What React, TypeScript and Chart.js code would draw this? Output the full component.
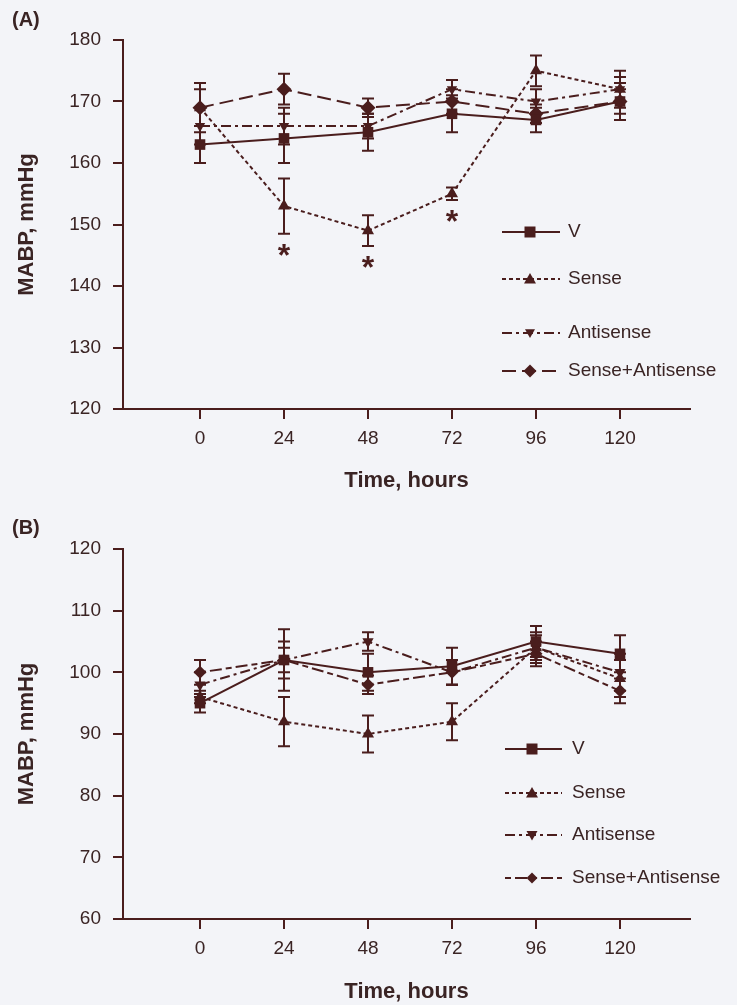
import React, { useEffect, useRef } from 'react';
import { Chart, registerables } from 'chart.js';
Chart.register(...registerables);

// ---------- data ----------
const hours = [0, 24, 48, 72, 96, 120];
const seriesNames = ['V', 'Sense', 'Antisense', 'Sense+Antisense'];

// Panel A
const aV = [163, 164, 165, 168, 167, 170];
const aVErr = [3, 4, 3, 3, 2, 3];
const aSense = [169, 153, 149, 155, 175, 172];
const aSenseErr = [4, 4.5, 2.5, 1, 2.5, 3];
const aAnti = [166, 166, 166, 172, 170, 172];
const aAntiErr = [3, 3, 2, 1.5, 2, 2];
const aSA = [169, 172, 169, 170, 168, 170];
const aSAErr = [3, 2.5, 1.5, 2, 1.5, 2];
const aStarHours = [24, 48, 72];

// Panel B
const bV = [95, 102, 100, 101, 105, 103];
const bVErr = [1.5, 5, 3, 3, 2.5, 3];
const bSense = [96, 92, 90, 92, 104, 99];
const bSenseErr = [1, 4, 3, 3, 2.5, 3];
const bAnti = [98, 102, 105, 100, 104, 100];
const bAntiErr = [2, 3, 1.5, 2, 2, 3];
const bSA = [100, 102, 98, 100, 103, 97];
const bSAErr = [2, 2, 1.5, 2, 2, 2];

const yTicksA = [120, 180];
const yTicksB = [60, 120];
const xLabel = 'Time, hours';
const yLabel = 'MABP, mmHg';

// ---------- styles ----------
const INK = '#4a1d1d';
const TEXT = '#3a2424';
const BG = '#f3f4f8';
const FONT = 'Arial, "Liberation Sans", Helvetica, sans-serif';

type Style = { dash: number[]; shape: 'square' | 'tri' | 'itri' | 'diamond'; r: number; pr: number };
const stylesA: Style[] = [
  { dash: [], shape: 'square', r: 5.5, pr: 7.5 },
  { dash: [4, 3], shape: 'tri', r: 6, pr: 7 },
  { dash: [10, 4, 3, 4], shape: 'itri', r: 5, pr: 6 },
  { dash: [14, 6], shape: 'diamond', r: 6.5, pr: 7.5 },
];
const stylesB: Style[] = [
  { dash: [], shape: 'square', r: 5.5, pr: 7.5 },
  { dash: [4, 3], shape: 'tri', r: 6, pr: 7 },
  { dash: [10, 4, 3, 4], shape: 'itri', r: 5.5, pr: 6.5 },
  { dash: [6, 4, 12, 4], shape: 'diamond', r: 5.5, pr: 6.5 },
];

function pointStyleOf(s: Style) {
  if (s.shape === 'square') return { pointStyle: 'rect', rotation: 0 };
  if (s.shape === 'tri') return { pointStyle: 'triangle', rotation: 0 };
  if (s.shape === 'itri') return { pointStyle: 'triangle', rotation: 180 };
  return { pointStyle: 'rectRot', rotation: 0 };
}

function drawMarker(ctx: CanvasRenderingContext2D, s: Style, x: number, y: number) {
  ctx.save();
  ctx.setLineDash([]);
  ctx.fillStyle = INK;
  ctx.beginPath();
  const r = s.r;
  if (s.shape === 'square') {
    ctx.rect(x - r, y - r, 2 * r, 2 * r);
  } else if (s.shape === 'tri') {
    ctx.moveTo(x, y - r);
    ctx.lineTo(x + r, y + r * 0.75);
    ctx.lineTo(x - r, y + r * 0.75);
    ctx.closePath();
  } else if (s.shape === 'itri') {
    ctx.moveTo(x, y + r);
    ctx.lineTo(x + r, y - r * 0.75);
    ctx.lineTo(x - r, y - r * 0.75);
    ctx.closePath();
  } else {
    ctx.moveTo(x, y - r);
    ctx.lineTo(x + r, y);
    ctx.lineTo(x, y + r);
    ctx.lineTo(x - r, y);
    ctx.closePath();
  }
  ctx.fill();
  ctx.restore();
}

type PanelCfg = {
  means: number[][];
  errs: number[][];
  styles: Style[];
  yRange: number[];
  padTop: number;
  xAxisH: number;
  xTitlePadBottom: number;
  legendRows: number[];
  legendX: number[];
  stars: number[];
  starSeries: number;
};

function makeChart(canvas: HTMLCanvasElement, cfg: PanelCfg) {
  const errorBars = {
    id: 'errorBars',
    beforeDatasetsDraw(chart: any) {
      const ctx = chart.ctx;
      const xs = chart.scales.x;
      const ys = chart.scales.y;
      ctx.save();
      ctx.strokeStyle = INK;
      ctx.lineWidth = 2;
      ctx.setLineDash([]);
      cfg.means.forEach((m, i) => {
        m.forEach((v, j) => {
          const e = cfg.errs[i][j];
          const x = xs.getPixelForValue(hours[j]);
          const yt = ys.getPixelForValue(v + e);
          const yb = ys.getPixelForValue(v - e);
          ctx.beginPath();
          ctx.moveTo(x, yt);
          ctx.lineTo(x, yb);
          ctx.moveTo(x - 6, yt);
          ctx.lineTo(x + 6, yt);
          ctx.moveTo(x - 6, yb);
          ctx.lineTo(x + 6, yb);
          ctx.stroke();
        });
      });
      ctx.restore();
    },
  };

  const extras = {
    id: 'extras',
    afterDraw(chart: any) {
      const ctx = chart.ctx;
      const xs = chart.scales.x;
      const ys = chart.scales.y;
      ctx.save();
      ctx.fillStyle = INK;
      ctx.font = `bold 32px ${FONT}`;
      ctx.textAlign = 'center';
      ctx.textBaseline = 'middle';
      cfg.stars.forEach((h) => {
        const j = hours.indexOf(h);
        const m = cfg.means[cfg.starSeries][j];
        const e = cfg.errs[cfg.starSeries][j];
        const x = xs.getPixelForValue(h);
        const y = ys.getPixelForValue(m - e) + 23;
        ctx.fillText('*', x, y);
      });
      const [x0, xm, x1, xt] = cfg.legendX;
      cfg.legendRows.forEach((y, i) => {
        const s = cfg.styles[i];
        ctx.strokeStyle = INK;
        ctx.lineWidth = 2;
        ctx.setLineDash(s.dash);
        ctx.beginPath();
        ctx.moveTo(x0, y);
        ctx.lineTo(x1, y);
        ctx.stroke();
        drawMarker(ctx, s, xm, y);
        ctx.setLineDash([]);
        ctx.fillStyle = TEXT;
        ctx.font = `19px ${FONT}`;
        ctx.textAlign = 'left';
        ctx.textBaseline = 'middle';
        ctx.fillText(seriesNames[i], xt, y);
      });
      ctx.restore();
    },
  };

  const datasets = cfg.means.map((m, i) => {
    const s = cfg.styles[i];
    const ps = pointStyleOf(s);
    return {
      label: seriesNames[i],
      data: m.map((v, j) => ({ x: hours[j], y: v })),
      borderColor: INK,
      backgroundColor: INK,
      borderWidth: 2,
      borderDash: s.dash,
      pointStyle: ps.pointStyle,
      pointRotation: ps.rotation,
      pointRadius: s.pr,
      pointBackgroundColor: INK,
      pointBorderColor: INK,
      pointBorderWidth: 0,
      tension: 0,
      fill: false,
    };
  });

  return new Chart(canvas, {
    type: 'line',
    data: { datasets },
    plugins: [errorBars, extras],
    options: {
      animation: false,
      responsive: false,
      maintainAspectRatio: false,
      layout: { padding: { top: cfg.padTop, left: 0, right: 47, bottom: 0 } },
      plugins: { legend: { display: false }, tooltip: { enabled: false } },
      scales: {
        x: {
          type: 'linear',
          min: -22,
          max: 140,
          afterBuildTicks: (s: any) => {
            s.ticks = hours.map((v) => ({ value: v }));
          },
          afterFit: (s: any) => {
            s.height = cfg.xAxisH;
          },
          grid: { display: true, drawOnChartArea: false, drawTicks: true, tickLength: 10, color: INK, lineWidth: 2 },
          border: { display: true, color: INK, width: 2 },
          ticks: { color: TEXT, font: { size: 19, family: FONT }, padding: 8, maxRotation: 0, autoSkip: false },
          title: {
            display: true,
            text: xLabel,
            color: TEXT,
            font: { size: 22, weight: 'bold', family: FONT },
            padding: { top: 0, bottom: cfg.xTitlePadBottom },
          },
        },
        y: {
          type: 'linear',
          min: cfg.yRange[0],
          max: cfg.yRange[1],
          afterFit: (s: any) => {
            s.width = 123;
          },
          grid: { display: true, drawOnChartArea: false, drawTicks: true, tickLength: 10, color: INK, lineWidth: 2 },
          border: { display: true, color: INK, width: 2 },
          ticks: { stepSize: 10, color: TEXT, font: { size: 19, family: FONT }, padding: 12 },
          title: {
            display: true,
            text: yLabel,
            color: TEXT,
            font: { size: 22, weight: 'bold', family: FONT },
            padding: { top: 14, bottom: 0 },
          },
        },
      },
    } as any,
  });
}

const panelA: PanelCfg = {
  means: [aV, aSense, aAnti, aSA],
  errs: [aVErr, aSenseErr, aAntiErr, aSAErr],
  styles: stylesA,
  yRange: yTicksA,
  padTop: 40,
  xAxisH: 93,
  xTitlePadBottom: 8,
  legendRows: [232, 279, 333, 371],
  legendX: [502, 530, 560, 568],
  stars: aStarHours,
  starSeries: 1,
};

const panelB: PanelCfg = {
  means: [bV, bSense, bAnti, bSA],
  errs: [bVErr, bSenseErr, bAntiErr, bSAErr],
  styles: stylesB,
  yRange: yTicksB,
  padTop: 47,
  xAxisH: 86,
  xTitlePadBottom: 0,
  legendRows: [247, 291, 333, 376],
  legendX: [505, 532, 562, 572],
  stars: [],
  starSeries: 1,
};

function Panel({ cfg, top, height }: { cfg: PanelCfg; top: number; height: number }) {
  const ref = useRef<HTMLCanvasElement | null>(null);
  useEffect(() => {
    if (!ref.current) return;
    const c = makeChart(ref.current, cfg);
    return () => c.destroy();
  }, [cfg]);
  return (
    <canvas
      ref={ref}
      width={737}
      height={height}
      style={{ position: 'absolute', left: 0, top, width: 737, height }}
    />
  );
}

export default function App() {
  const label: React.CSSProperties = {
    position: 'absolute',
    left: 12,
    fontFamily: FONT,
    fontWeight: 'bold',
    fontSize: 20,
    color: TEXT,
    lineHeight: '22px',
  };
  return (
    <div style={{ position: 'fixed', left: 0, top: 0, width: 737, height: 1005, background: BG, overflow: 'hidden' }}>
      <Panel cfg={panelA} top={0} height={502} />
      <Panel cfg={panelB} top={502} height={503} />
      <div style={{ ...label, top: 8 }}>(A)</div>
      <div style={{ ...label, top: 516 }}>(B)</div>
    </div>
  );
}
